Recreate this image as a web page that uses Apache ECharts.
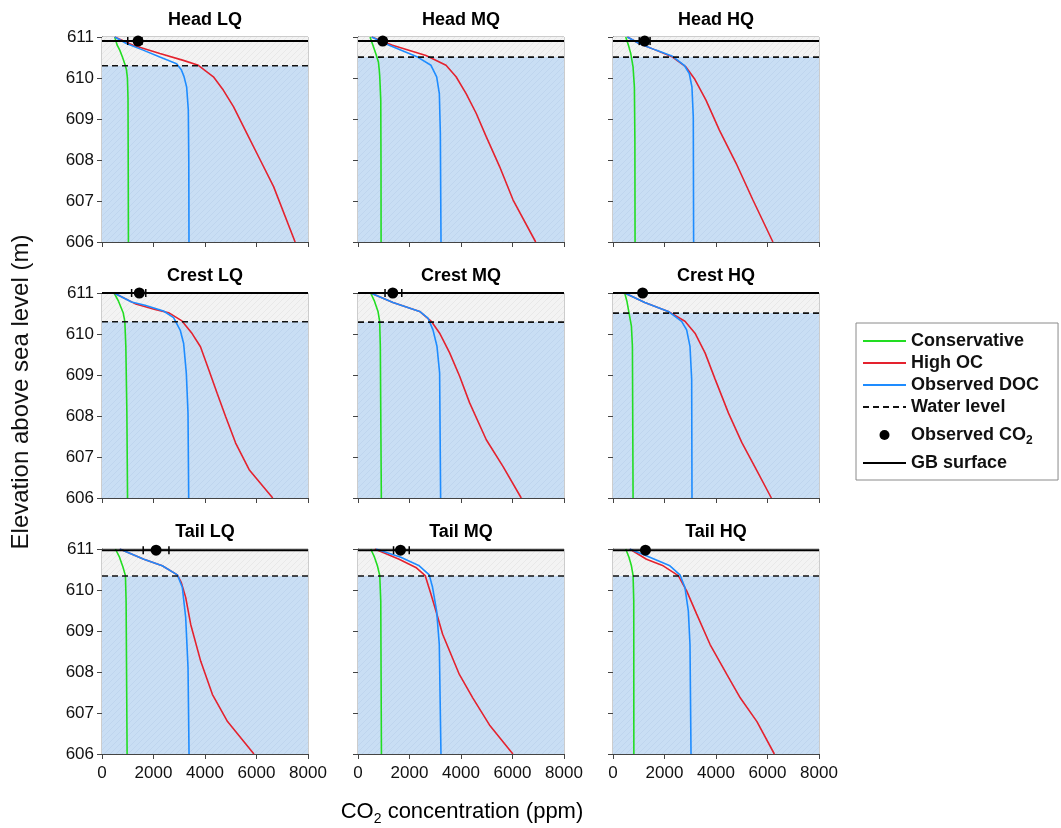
<!DOCTYPE html>
<html>
<head>
<meta charset="utf-8">
<script src="https://cdn.jsdelivr.net/npm/echarts@6/dist/echarts.min.js"></script>
<style>
  html, body { margin: 0; padding: 0; background: #ffffff; }
  #chart { width: 1061px; height: 828px; }
</style>
</head>
<body>
<div id="chart"></div>
<script>
// ---- Data -------------------------------------------------------------
const panelTitles = ['Head LQ', 'Head MQ', 'Head HQ',
                     'Crest LQ', 'Crest MQ', 'Crest HQ',
                     'Tail LQ', 'Tail MQ', 'Tail HQ'];

// elevation of the water table and of the gravel-bar surface (m a.s.l.)
const waterLevel = [610.30, 610.51, 610.51, 610.30, 610.29, 610.51, 610.34, 610.34, 610.34];
const gbSurface  = [610.90, 610.90, 610.90, 611.00, 611.00, 611.00, 610.97, 610.97, 610.97];

// observed CO2 (ppm) with its range; null where no range is drawn
const co2Observed = [1400, 960, 1230, 1450, 1350, 1150, 2100, 1650, 1260];
const co2Low      = [1000, 850, 1020, 1150, 1050, null, 1600, 1380, null];
const co2High     = [1550, 1080, 1440, 1700, 1700, null, 2600, 1990, null];

// modelled profiles: [CO2 ppm, elevation m]
const conservative = [
  [[494,611],[540,610.9],[590,610.8],[690,610.68],[800,610.5],[883,610.35],[950,610.2],[987,610.0],[1010,609.5],[1018,608],[1026,606]],
  [[468,611],[580,610.8],[689,610.6],[793,610.39],[825,610.2],[845,610.03],[884,609.46],[893,608],[897,606]],
  [[494,611],[600,610.8],[688,610.6],[779,610.27],[831,609.78],[850,608.5],[857,606]],
  [[470,611],[640,610.8],[822,610.52],[887,610.3],[926,609.69],[966,608.07],[992,606]],
  [[492,611],[640,610.8],[777,610.55],[841,610.31],[867,609.7],[906,606]],
  [[455,611],[540,610.8],[611,610.55],[715,610.19],[754,609.7],[780,606]],
  [[520,611],[680,610.8],[819,610.55],[910,610.35],[936,609.73],[975,606]],
  [[494,611],[640,610.8],[754,610.59],[845,610.35],[884,609.73],[910,606]],
  [[494,611],[620,610.8],[715,610.59],[780,610.35],[806,609.73],[810,606]]
];

const highOC = [
  [[494,611],[1208,610.8],[2247,610.6],[3157,610.43],[3741,610.31],[4326,610.03],[4716,609.7],[5105,609.3],[5625,608.65],[6145,608.0],[6664,607.35],[7500,606]],
  [[533,611],[1339,610.8],[2639,610.55],[3419,610.31],[3809,610.03],[4199,609.62],[4589,609.14],[4979,608.57],[5499,607.84],[6019,607.03],[6900,606]],
  [[558,611],[1013,610.84],[1663,610.68],[2312,610.51],[2832,610.27],[3157,609.99],[3611,609.46],[4131,608.73],[4781,607.92],[5430,607.03],[6210,606]],
  [[470,611],[1280,610.74],[2060,610.6],[2585,610.52],[3105,610.32],[3500,610.01],[3824,609.69],[4150,609.12],[4475,608.55],[4800,607.99],[5190,607.34],[5715,606.69],[6630,606]],
  [[492,611],[1359,610.77],[2394,610.55],[2847,610.31],[3170,610.02],[3559,609.54],[3947,608.97],[4335,608.32],[4982,607.42],[5629,606.77],[6340,606]],
  [[455,611],[1235,610.77],[2145,610.55],[2795,610.31],[3185,610.02],[3575,609.54],[3965,608.9],[4485,608.07],[5005,607.35],[5525,606.74],[6150,606]],
  [[690,611],[1625,610.75],[2340,610.59],[2925,610.37],[3081,610.18],[3250,609.82],[3445,609.16],[3835,608.26],[4290,607.45],[4875,606.79],[5900,606]],
  [[650,611],[1598,610.75],[2247,610.55],[2611,610.35],[2832,609.9],[3027,609.49],[3287,608.92],[3936,607.94],[4456,607.37],[5105,606.71],[6015,606]],
  [[650,611],[1300,610.75],[1950,610.59],[2535,610.35],[2860,609.98],[3250,609.41],[3770,608.67],[4420,607.94],[4940,607.37],[5590,606.79],[6266,606]]
];

const observedDOC = [
  [[494,611],[948,610.84],[1598,610.68],[2247,610.51],[2897,610.35],[3080,610.2],[3183,610.04],[3287,609.78],[3352,609.22],[3370,608],[3378,606]],
  [[533,611],[1209,610.8],[2314,610.51],[2834,610.31],[3055,610.03],[3159,609.62],[3198,608.65],[3224,606]],
  [[558,611],[1013,610.84],[1663,610.68],[2312,610.53],[2767,610.31],[2962,610.11],[3066,609.78],[3118,609.05],[3131,606]],
  [[470,611],[1148,610.78],[1670,610.7],[2388,610.56],[2780,610.4],[3040,610.09],[3170,609.77],[3275,609.04],[3340,608.07],[3367,606]],
  [[492,611],[1359,610.77],[2394,610.55],[2717,610.39],[2911,610.1],[3067,609.7],[3170,609.05],[3209,606]],
  [[455,611],[1235,610.77],[2145,610.55],[2665,610.31],[2860,610.1],[2990,609.7],[3055,608.9],[3068,606]],
  [[690,611],[1625,610.75],[2340,610.59],[2925,610.37],[3120,610.06],[3250,609.33],[3341,608.1],[3380,606]],
  [[700,611],[1663,610.8],[2378,610.59],[2767,610.37],[2897,610.06],[3053,609.49],[3157,608.67],[3222,606]],
  [[650,611],[1430,610.8],[2210,610.59],[2600,610.37],[2795,610.06],[2925,609.49],[2990,608.67],[3030,606]]
];

const elevMin = 606, elevMax = 611, elevStep = 1;
const co2Min = 0, co2Max = 8000, co2Step = 2000;

// ---- Layout & styles -------------------------------------------------------
const FONT = '"Liberation Sans", Arial, sans-serif';
const colLeft = [102, 358, 613];
const rowTop = [37, 293, 549];
const plotW = 206, plotH = 205;

const C_CONS = '#22dd22';
const C_HOC = '#e4222e';
const C_DOC = '#1e8cff';

function hatch(base, stroke) {
  const n = 6;
  const c = document.createElement('canvas');
  c.width = n; c.height = n;
  const g = c.getContext('2d');
  g.fillStyle = base; g.fillRect(0, 0, n, n);
  g.strokeStyle = stroke; g.lineWidth = 1;
  g.beginPath(); g.moveTo(0, n); g.lineTo(n, 0); g.stroke();
  return c;
}
const unsatFill = { image: hatch('#f3f3f3', '#e8e8e8'), repeat: 'repeat' };
const satFill = { image: hatch('#c9def4', '#bfd5ee'), repeat: 'repeat' };

const grids = [], xAxes = [], yAxes = [], series = [], graphics = [];

panelTitles.forEach((title, i) => {
  const r = Math.floor(i / 3), c = i % 3;
  grids.push({ left: colLeft[c], top: rowTop[r], width: plotW, height: plotH,
               show: true, borderColor: '#9a9a9a', borderWidth: 1, backgroundColor: 'transparent' });
  xAxes.push({
    gridIndex: i, type: 'value', min: co2Min, max: co2Max, interval: co2Step,
    axisLine: { show: true, onZero: false, lineStyle: { color: '#444', width: 1 } },
    axisTick: { show: true, length: 5, lineStyle: { color: '#444' } },
    axisLabel: { show: r === 2, fontFamily: FONT, fontSize: 17, color: '#111', margin: 11,
                 formatter: v => String(v) },
    splitLine: { show: false }
  });
  yAxes.push({
    gridIndex: i, type: 'value', min: elevMin, max: elevMax, interval: elevStep,
    axisLine: { show: true, onZero: false, lineStyle: { color: '#444', width: 1 } },
    axisTick: { show: true, length: 5, lineStyle: { color: '#444' } },
    axisLabel: { show: c === 0, fontFamily: FONT, fontSize: 17, color: '#111', margin: 8,
                 formatter: v => String(v) },
    splitLine: { show: false }
  });

  // unsaturated (above water table) and saturated zones
  series.push({
    type: 'custom', name: 'zones', xAxisIndex: i, yAxisIndex: i, z: 1, silent: true,
    data: [[elevMax, waterLevel[i], 0], [waterLevel[i], elevMin, 1]],
    encode: { x: [], y: [0, 1] },
    renderItem(params, api) {
      const cs = params.coordSys;
      const y1 = api.coord([co2Min, api.value(0)])[1];
      const y2 = api.coord([co2Min, api.value(1)])[1];
      return { type: 'rect', shape: { x: cs.x, y: y1, width: cs.width, height: y2 - y1 },
               style: { fill: api.value(2) ? satFill : unsatFill } };
    }
  });

  const lineBase = { type: 'line', xAxisIndex: i, yAxisIndex: i, symbol: 'none',
                     showSymbol: false, silent: true, animation: false };
  series.push(Object.assign({}, lineBase, { name: 'Conservative', z: 3, data: conservative[i],
    lineStyle: { color: C_CONS, width: 1.6 }, itemStyle: { color: C_CONS } }));
  series.push(Object.assign({}, lineBase, { name: 'High OC', z: 4, data: highOC[i],
    lineStyle: { color: C_HOC, width: 1.6 }, itemStyle: { color: C_HOC } }));
  series.push(Object.assign({}, lineBase, { name: 'Observed DOC', z: 5, data: observedDOC[i],
    lineStyle: { color: C_DOC, width: 1.6 }, itemStyle: { color: C_DOC } }));
  series.push(Object.assign({}, lineBase, { name: 'Water level', z: 6, clip: false,
    data: [[co2Min, waterLevel[i]], [co2Max, waterLevel[i]]],
    lineStyle: { color: '#111', width: 1.6, type: [6, 4] }, itemStyle: { color: '#111' } }));
  series.push(Object.assign({}, lineBase, { name: 'GB surface', z: 6, clip: false,
    data: [[co2Min, gbSurface[i]], [co2Max, gbSurface[i]]],
    lineStyle: { color: '#000', width: 2 }, itemStyle: { color: '#000' } }));

  if (co2Low[i] !== null) {
    series.push({
      type: 'custom', name: 'CO2 range', xAxisIndex: i, yAxisIndex: i, z: 7, silent: true, clip: false,
      data: [[co2Low[i], co2High[i], gbSurface[i]]],
      encode: { x: [0, 1], y: 2 },
      renderItem(params, api) {
        const a = api.coord([api.value(0), api.value(2)]);
        const b = api.coord([api.value(1), api.value(2)]);
        const st = { stroke: '#000', lineWidth: 1.5 };
        return { type: 'group', children: [
          { type: 'line', shape: { x1: a[0], y1: a[1], x2: b[0], y2: b[1] }, style: st },
          { type: 'line', shape: { x1: a[0], y1: a[1] - 4, x2: a[0], y2: a[1] + 4 }, style: st },
          { type: 'line', shape: { x1: b[0], y1: b[1] - 4, x2: b[0], y2: b[1] + 4 }, style: st }
        ] };
      }
    });
  }
  series.push({
    type: 'scatter', name: 'Observed CO2', xAxisIndex: i, yAxisIndex: i, z: 8, clip: false,
    silent: true, symbol: 'circle', symbolSize: 11,
    data: [[co2Observed[i], gbSurface[i]]], itemStyle: { color: '#000', opacity: 1 }
  });

  graphics.push({
    type: 'text', x: colLeft[c] + plotW / 2, y: rowTop[r] - 17,
    style: { text: title, align: 'center', verticalAlign: 'middle',
             font: 'bold 18px ' + FONT, fill: '#000' }
  });
});

// axis titles
graphics.push({
  type: 'text', x: 21, y: 392, rotation: Math.PI / 2,
  style: { text: 'Elevation above sea level (m)', align: 'center', verticalAlign: 'middle',
           font: '24px ' + FONT, fill: '#111' }
});
graphics.push({
  type: 'text', x: 462, y: 812,
  style: { text: '{a|CO}{b|2}{a| concentration (ppm)}', align: 'center', verticalAlign: 'middle',
           rich: { a: { fontFamily: FONT, fontSize: 22, color: '#111', lineHeight: 26 },
                   b: { fontFamily: FONT, fontSize: 14, color: '#111', lineHeight: 26, padding: [14, 0, 0, 0] } } }
});

const option = {
  animation: false,
  backgroundColor: '#ffffff',
  grid: grids, xAxis: xAxes, yAxis: yAxes, series: series, graphic: graphics,
  legend: {
    orient: 'vertical', left: 856, top: 323,
    data: ['Conservative', 'High OC', 'Observed DOC', 'Water level',
           { name: 'Observed CO2', itemStyle: { opacity: 1, color: '#000' } }, 'GB surface'],
    itemWidth: 43, itemHeight: 10, itemGap: 4,
    padding: [9, 19, 8, 6],
    borderColor: '#8a8a8a', borderWidth: 1, borderRadius: 0,
    selectedMode: false,
    itemStyle: { opacity: 0 },
    formatter: name => name === 'Observed CO2' ? '{t|Observed CO}{s|2}' : name,
    textStyle: {
      fontFamily: FONT, fontSize: 18, fontWeight: 'bold', color: '#111', lineHeight: 18,
      rich: {
        t: { fontFamily: FONT, fontSize: 18, fontWeight: 'bold', color: '#111', lineHeight: 30 },
        s: { fontFamily: FONT, fontSize: 12, fontWeight: 'bold', color: '#111', lineHeight: 30, padding: [12, 0, 0, 0] }
      }
    }
  }
};

const chart = echarts.init(document.getElementById('chart'), null, { renderer: 'canvas' });
chart.setOption(option);
</script>
</body>
</html>
